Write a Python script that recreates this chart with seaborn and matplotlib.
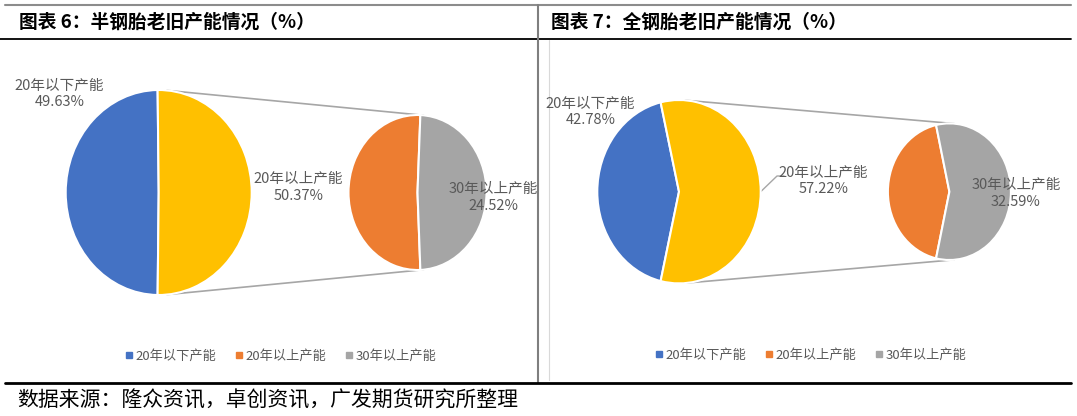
import numpy as np
import matplotlib.pyplot as plt
import seaborn as sns
from matplotlib.lines import Line2D

sns.set_theme(style="white")
plt.rcParams['font.family'] = ['Noto Sans CJK SC', 'DejaVu Sans']

# data
titles = ['图表 6：半钢胎老旧产能情况（%）', '图表 7：全钢胎老旧产能情况（%）']
legend_labels = ['20年以下产能', '20年以上产能', '30年以上产能']
semi_main = [49.63, 50.37]   # 20年以下, 20年以上
semi_30 = 24.52              # 30年以上
full_main = [42.78, 57.22]
full_30 = 32.59
source = '数据来源：隆众资讯，卓创资讯，广发期货研究所整理'

colors = ['#4472C4', '#FFC000', '#ED7D31', '#A5A5A5']
txt_color = '#595959'

W, H = 1077, 416
fig = plt.figure(figsize=(W / 100, H / 100), dpi=100)
fig.patch.set_facecolor('white')


def overlay(z):
    a = fig.add_axes([0, 0, 1, 1])
    a.set_xlim(0, W)
    a.set_ylim(H, 0)
    a.axis('off')
    a.patch.set_alpha(0)
    a.set_zorder(z)
    return a


# pixel-coordinate layers: below pies (lines) and above pies (labels)
ov = overlay(0)
top = overlay(10)


def pie_axes(cx, cy, rx, ry):
    ax = fig.add_axes([(cx - rx) / W, 1 - (cy + ry) / H, 2 * rx / W, 2 * ry / H])
    ax.axis('off')
    ax.patch.set_alpha(0)
    ax.set_zorder(5)
    return ax


def draw_panel(main, over30, big, small, lbl_pos, leader=None):
    cx1, cy1, rx1, ry1 = big
    cx2, cy2, rx2, ry2 = small
    wp = dict(edgecolor='white', linewidth=1.5)

    # main pie, "other" slice centred at 0 deg
    ax1 = pie_axes(*big)
    ax1.pie(main, colors=colors[:2], startangle=main[1] / 100 * 180,
            radius=1, wedgeprops=wp)
    ax1.set_aspect('auto')
    ax1.set_xlim(-1, 1)
    ax1.set_ylim(-1, 1)

    # secondary pie
    sub = [main[1] - over30, over30]
    ax2 = pie_axes(*small)
    ax2.pie(sub, colors=colors[2:], startangle=over30 / main[1] * 180,
            radius=1, wedgeprops=wp)
    ax2.set_aspect('auto')
    ax2.set_xlim(-1, 1)
    ax2.set_ylim(-1, 1)

    # connector lines (outer tangents)
    k = ry1 / rx1
    d = (cx2 - cx1) * k
    th = np.arccos((ry1 - ry2) / d)
    for s in (1, -1):
        ov.plot([cx1 + rx1 * np.cos(th), cx2 + rx2 * np.cos(th)],
                [cy1 - s * ry1 * np.sin(th), cy2 - s * ry2 * np.sin(th)],
                color='#A6A6A6', lw=1.2)

    vals = [main[0], main[1], over30]
    for lab, v, (x, y) in zip(legend_labels, vals, lbl_pos):
        top.text(x, y, f'{lab}\n{v:.2f}%', ha='center', va='center',
                 fontsize=10.5, color=txt_color, linespacing=1.25)
    if leader is not None:
        ov.plot(leader[0], leader[1], color='#A6A6A6', lw=1)


# panel 1
draw_panel(semi_main, semi_30,
           big=(158.7, 192.5, 93, 102.5), small=(417.5, 192.5, 69, 77.5),
           lbl_pos=[(59.5, 94), (298.5, 187.5), (493, 197.5)])
# panel 2
draw_panel(full_main, full_30,
           big=(679, 191.7, 81.7, 91.7), small=(949.4, 191.7, 61.5, 68.3),
           lbl_pos=[(590.5, 112), (823.5, 181), (1016, 193.7)],
           leader=([760.7, 777, 784], [191.7, 176, 176]))

# legends
handles = [Line2D([], [], marker='s', ls='', color=c, markersize=4.5)
           for c in [colors[0], colors[2], colors[3]]]
for cx, cy in [(281, 356), (811, 355)]:
    fig.legend(handles, legend_labels, loc='center', ncol=3,
               bbox_to_anchor=(cx / W, 1 - cy / H), frameon=False,
               fontsize=9.5, labelcolor=txt_color, handlelength=0.6,
               handletextpad=0.2, columnspacing=1.4)

# frame lines
ov.plot([5, 1071], [5, 5], color='#8C8C8C', lw=1.5)
ov.plot([0, 1071], [38.5, 38.5], color='black', lw=1.3)
ov.plot([538, 538], [5, 383], color='#7F7F7F', lw=1.5)
ov.plot([548.5, 548.5], [40, 380], color='#D9D9D9', lw=0.8)
ov.plot([5, 1071], [383, 383], color='black', lw=2)

# titles and footer
top.text(19, 22, titles[0], ha='left', va='center', fontsize=13.5,
         fontweight='bold', color='black')
top.text(551, 22, titles[1], ha='left', va='center', fontsize=13.5,
         fontweight='bold', color='black')
top.text(17, 401, source, ha='left', va='center', fontsize=15, color='black')

fig.savefig('out.png', dpi=100, facecolor='white')
